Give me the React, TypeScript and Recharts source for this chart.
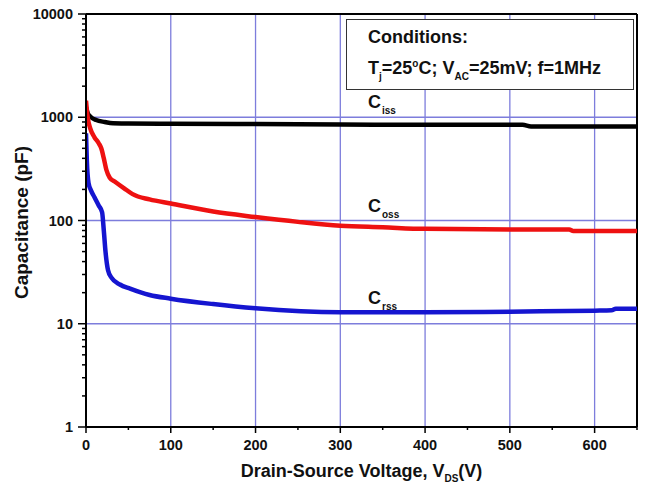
import { LineChart, Line, XAxis, YAxis, ReferenceLine } from 'recharts';

// Ciss (black)
const issV = [0, 2, 6, 12, 22, 32, 50, 100, 200, 300, 400, 515, 525, 650];
const issC = [1250, 1100, 1000, 940, 900, 875, 870, 865, 860, 850, 845, 845, 815, 815];

// Coss (red)
const ossV = [0, 2, 5, 10, 15, 18, 21, 24, 28, 35, 45, 55, 75, 100, 150, 200, 250, 300, 350, 400, 500, 570, 575, 650];
const ossC = [1450, 1000, 780, 640, 560, 500, 400, 310, 260, 235, 205, 180, 160, 146, 122, 108, 97, 89, 86, 83, 82, 82, 79, 79];

// Crss (blue)
const rssV = [0, 1, 3, 6, 10, 15, 19, 21, 23, 26, 30, 40, 52, 75, 100, 150, 200, 300, 400, 500, 600, 620, 625, 650];
const rssC = [700, 380, 230, 195, 168, 140, 120, 80, 50, 33, 28, 24, 21.9, 19, 17.5, 15.5, 14.1, 12.9, 12.9, 13.1, 13.4, 13.5, 14, 14];

const xMajor = [0, 100, 200, 300, 400, 500, 600];
const xMinor = [50, 150, 250, 350, 450, 550, 650];
const yMajor = [1, 10, 100, 1000, 10000];
const yMinor = [1, 10, 100, 1000].flatMap((d) => [2, 3, 4, 5, 6, 7, 8, 9].map((m) => m * d));
const xGrid = [100, 200, 300, 400, 500, 600];
const yGrid = [10, 100, 1000];

const toPoints = (vs: number[], cs: number[]) => vs.map((v, i) => ({ v, c: cs[i] }));
const issData = toPoints(issV, issC);
const ossData = toPoints(ossV, ossC);
const rssData = toPoints(rssV, rssC);

const font = '"Liberation Sans", Arial, sans-serif';
const gridColor = '#7d7ddc';

const YTick = (props: any) => {
  const { x, y, payload } = props;
  const major = yMajor.includes(payload.value);
  return (
    <g>
      <line x1={x - (major ? 8 : 4)} x2={x} y1={y} y2={y} stroke="#000" strokeWidth={1.5} />
      {major && (
        <text x={x - 13} y={y} dy={5} textAnchor="end" fontFamily={font} fontWeight="bold" fontSize={14.5} fill="#111">
          {payload.value}
        </text>
      )}
    </g>
  );
};

const XTick = (props: any) => {
  const { x, y, payload } = props;
  const major = xMajor.includes(payload.value);
  return (
    <g>
      <line x1={x} x2={x} y1={y} y2={y + (major ? 6 : 3)} stroke="#000" strokeWidth={1.5} />
      {major && (
        <text x={x} y={y + 23} textAnchor="middle" fontFamily={font} fontWeight="bold" fontSize={14.5} fill="#111">
          {payload.value}
        </text>
      )}
    </g>
  );
};

const XTitle = (props: any) => {
  const vb = props.viewBox;
  return (
    <text x={vb.x + vb.width / 2} y={vb.y + 50} textAnchor="middle" fontFamily={font} fontWeight="bold" fontSize={18} fill="#111">
      Drain-Source Voltage, V
      <tspan fontSize={10} dy={5}>DS</tspan>
      <tspan dy={-5}>(V)</tspan>
    </text>
  );
};

const YTitle = (props: any) => {
  const vb = props.viewBox;
  const cx = 22;
  const cy = vb.y + vb.height / 2 + 2;
  return (
    <text x={cx} y={cy} transform={`rotate(-90 ${cx} ${cy})`} textAnchor="middle" dy={6} fontFamily={font} fontWeight="bold" fontSize={19} fill="#111">
      Capacitance (pF)
    </text>
  );
};

const CLabel = ({ left, top, sub }: { left: number; top: number; sub: string }) => (
  <div style={{ position: 'absolute', left, top, fontFamily: font, fontWeight: 'bold', fontSize: 18, color: '#111', lineHeight: 1 }}>
    C<span style={{ fontSize: 10, position: 'relative', top: 6, marginLeft: 1 }}>{sub}</span>
  </div>
);

export default function App() {
  return (
    <div style={{ position: 'absolute', left: 0, top: 0, width: 645, height: 488, background: '#fff' }}>
      <LineChart width={645} height={488} margin={{ top: 14, right: 8, left: 0, bottom: 0 }}>
        <XAxis
          type="number"
          dataKey="v"
          domain={[0, 650]}
          ticks={[...xMajor, ...xMinor].sort((a, b) => a - b)}
          interval={0}
          height={61}
          tickSize={0}
          tickMargin={0}
          tickLine={false}
          tick={<XTick />}
          axisLine={{ stroke: '#000', strokeWidth: 2 }}
          label={<XTitle />}
          allowDataOverflow
        />
        <YAxis
          type="number"
          dataKey="c"
          scale="log"
          domain={[1, 10000]}
          ticks={[...yMajor, ...yMinor].sort((a, b) => a - b)}
          interval={0}
          width={86}
          tickSize={0}
          tickMargin={0}
          tickLine={false}
          tick={<YTick />}
          axisLine={{ stroke: '#000', strokeWidth: 2 }}
          label={<YTitle />}
          allowDataOverflow
        />
        {xGrid.map((v) => (
          <ReferenceLine key={'gx' + v} x={v} stroke={gridColor} strokeWidth={1.3} />
        ))}
        {yGrid.map((v) => (
          <ReferenceLine key={'gy' + v} y={v} stroke={gridColor} strokeWidth={1.3} />
        ))}
        <ReferenceLine y={10000} stroke="#000" strokeWidth={2} />
        <ReferenceLine x={650} stroke="#000" strokeWidth={2} />
        <Line data={issData} dataKey="c" type="monotone" stroke="#000" strokeWidth={4.5} dot={false} isAnimationActive={false} />
        <Line data={ossData} dataKey="c" type="monotone" stroke="#ee1111" strokeWidth={4.5} dot={false} isAnimationActive={false} />
        <Line data={rssData} dataKey="c" type="monotone" stroke="#1515d0" strokeWidth={4.5} dot={false} isAnimationActive={false} />
      </LineChart>

      <div
        style={{
          position: 'absolute',
          left: 346,
          top: 19,
          width: 288,
          height: 71,
          border: '1.5px solid #333',
          background: '#fff',
          fontFamily: font,
          fontWeight: 'bold',
          fontSize: 18,
          lineHeight: 1,
          color: '#111',
          boxSizing: 'border-box',
        }}
      >
        <div style={{ position: 'absolute', left: 21, top: 8 }}>Conditions:</div>
        <div style={{ position: 'absolute', left: 21, top: 39, whiteSpace: 'nowrap' }}>
          T<span style={{ fontSize: 10, position: 'relative', top: 6 }}>j</span>=25
          <span style={{ fontSize: 10, position: 'relative', top: -7 }}>o</span>C; V
          <span style={{ fontSize: 10, position: 'relative', top: 6 }}>AC</span>=25mV; f=1MHz
        </div>
      </div>

      <CLabel left={368} top={93} sub="iss" />
      <CLabel left={368} top={197} sub="oss" />
      <CLabel left={368} top={289} sub="rss" />
    </div>
  );
}
